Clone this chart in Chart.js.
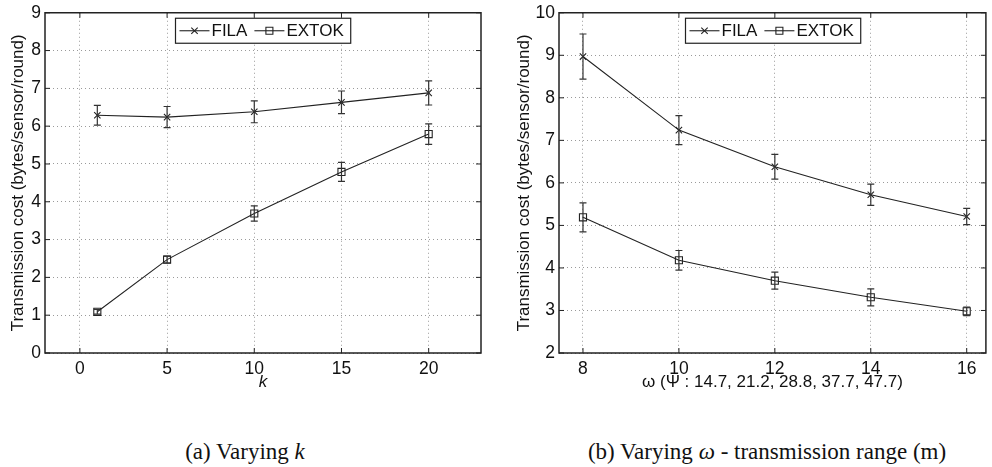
<!DOCTYPE html>
<html>
<head>
<meta charset="utf-8">
<script src="https://cdn.jsdelivr.net/npm/chart.js@4.4.1/dist/chart.umd.min.js"></script>
<style>
  body { margin: 0; background: #fff; }
  #wrap { position: relative; width: 992px; height: 467px; overflow: hidden; background: #fff; }
  #chartA { position: absolute; left: 0; top: 0; }
  #chartB { position: absolute; left: 500px; top: 0; }
  .caption {
    position: absolute; top: 440px;
    font-family: "Liberation Serif", "Times New Roman", serif;
    font-size: 23px; line-height: 23px; white-space: nowrap;
    transform: translateX(-50%); color: #111;
  }
</style>
</head>
<body>
<div id="wrap">
  <canvas id="chartA" width="500" height="400"></canvas>
  <canvas id="chartB" width="492" height="400"></canvas>
  <div class="caption" style="left:245px">(a) Varying <i>k</i></div>
  <div class="caption" style="left:767px">(b) Varying <i>ω</i> - transmission range (m)</div>
</div>
<script>
// ===== DATA =====
const seriesNames = ["FILA", "EXTOK"];
const yTitle = "Transmission cost (bytes/sensor/round)";

// (a) varying k
const kValues = [1, 5, 10, 15, 20];
const filaByK = [6.29, 6.24, 6.38, 6.63, 6.88];
const filaByKErr = [0.26, 0.28, 0.29, 0.30, 0.32];
const extokByK = [1.09, 2.47, 3.69, 4.79, 5.79];
const extokByKErr = [0.06, 0.09, 0.20, 0.25, 0.27];
const kTicks = [0, 5, 10, 15, 20];
const costTicksA = [0, 1, 2, 3, 4, 5, 6, 7, 8, 9];

// (b) varying omega
const omegaValues = [8, 10, 12, 14, 16];
const filaByOmega = [8.97, 7.24, 6.38, 5.72, 5.21];
const filaByOmegaErr = [0.53, 0.34, 0.29, 0.25, 0.19];
const extokByOmega = [5.19, 4.18, 3.70, 3.31, 2.98];
const extokByOmegaErr = [0.34, 0.23, 0.20, 0.20, 0.10];
const omegaTicks = [8, 10, 12, 14, 16];
const costTicksB = [2, 3, 4, 5, 6, 7, 8, 9, 10];

const INK = "#222";
const FONT = "'Liberation Sans', Arial, Helvetica, sans-serif";

// ===== PLUGINS =====
const errorBars = {
  id: "errorBars",
  afterDatasetsDraw(chart) {
    const ctx = chart.ctx;
    const xs = chart.scales.x, ys = chart.scales.y;
    ctx.save();
    ctx.strokeStyle = "#333";
    ctx.lineWidth = 1.2;
    chart.data.datasets.forEach(ds => {
      ds.data.forEach((p, i) => {
        const e = ds.errors[i];
        const x = xs.getPixelForValue(p.x);
        const y1 = ys.getPixelForValue(p.y + e);
        const y2 = ys.getPixelForValue(p.y - e);
        ctx.beginPath();
        ctx.moveTo(x, y1); ctx.lineTo(x, y2);
        ctx.moveTo(x - 3.5, y1); ctx.lineTo(x + 3.5, y1);
        ctx.moveTo(x - 3.5, y2); ctx.lineTo(x + 3.5, y2);
        ctx.stroke();
      });
    });
    ctx.restore();
  }
};

function drawMarker(ctx, style, x, y) {
  ctx.beginPath();
  if (style === "crossRot") {
    const d = 3.2;
    ctx.moveTo(x - d, y - d); ctx.lineTo(x + d, y + d);
    ctx.moveTo(x - d, y + d); ctx.lineTo(x + d, y - d);
  } else {
    ctx.rect(x - 3.5, y - 3.5, 7, 7);
  }
  ctx.stroke();
}

// box, inward ticks and legend, matlab style
const frame = {
  id: "frame",
  afterDraw(chart) {
    const ctx = chart.ctx;
    const a = chart.chartArea;
    const xs = chart.scales.x, ys = chart.scales.y;
    ctx.save();
    ctx.strokeStyle = INK;
    ctx.lineWidth = 1.5;
    ctx.strokeRect(a.left, a.top, a.right - a.left, a.bottom - a.top);

    ctx.lineWidth = 1;
    ctx.beginPath();
    xs.ticks.forEach(t => {
      const x = xs.getPixelForValue(t.value);
      ctx.moveTo(x, a.bottom); ctx.lineTo(x, a.bottom - 5);
      ctx.moveTo(x, a.top); ctx.lineTo(x, a.top + 5);
    });
    ys.ticks.forEach(t => {
      const y = ys.getPixelForValue(t.value);
      ctx.moveTo(a.left, y); ctx.lineTo(a.left + 5, y);
      ctx.moveTo(a.right, y); ctx.lineTo(a.right - 5, y);
    });
    ctx.stroke();

    // ===== LEGEND =====
    ctx.font = "17px " + FONT;
    const widths = chart.data.datasets.map(ds => ctx.measureText(ds.label).width);
    const boxW = 4 + widths.reduce((s, w) => s + 30 + 2 + w + 7, 0);
    const boxH = 25;
    const bx = Math.round((a.left + a.right) / 2 - boxW / 2) + 0.5;
    const by = a.top + 5.5;
    ctx.fillStyle = "#fff";
    ctx.fillRect(bx, by, boxW, boxH);
    ctx.lineWidth = 1.2;
    ctx.strokeRect(bx, by, boxW, boxH);
    let sx = bx + 4;
    const cy = by + boxH / 2;
    chart.data.datasets.forEach((ds, i) => {
      ctx.strokeStyle = INK;
      ctx.lineWidth = 1.1;
      ctx.beginPath();
      ctx.moveTo(sx, cy); ctx.lineTo(sx + 30, cy);
      ctx.stroke();
      drawMarker(ctx, ds.pointStyle, sx + 15, cy);
      ctx.fillStyle = "#111";
      ctx.textBaseline = "middle";
      ctx.fillText(ds.label, sx + 32, cy + 1);
      sx += 30 + 2 + widths[i] + 7;
    });
    ctx.restore();
  }
};

// ===== CHART =====
function makeDataset(label, xv, yv, err, style, radius) {
  return {
    label: label,
    data: xv.map((x, i) => ({ x: x, y: yv[i] })),
    errors: err,
    borderColor: INK,
    borderWidth: 1.1,
    pointStyle: style,
    pointRadius: radius,
    pointHoverRadius: radius,
    pointBorderColor: INK,
    pointBorderWidth: 1.1,
    pointBackgroundColor: "rgba(0,0,0,0)",
    fill: false,
    tension: 0
  };
}

function makeChart(id, cfg) {
  return new Chart(document.getElementById(id), {
    type: "line",
    data: { datasets: cfg.datasets },
    plugins: [errorBars, frame],
    options: {
      responsive: false,
      animation: false,
      events: [],
      layout: { padding: { top: 9, right: cfg.padRight, bottom: 7.4, left: 0 } },
      plugins: { legend: { display: false }, tooltip: { enabled: false } },
      scales: {
        x: {
          type: "linear",
          min: cfg.xMin, max: cfg.xMax,
          afterBuildTicks: s => { s.ticks = cfg.xTicks.map(v => ({ value: v })); },
          afterFit: s => { s.height = 39.6; },
          grid: { color: "#9a9a9a", lineWidth: 1, drawTicks: false },
          border: { display: false, dash: [1, 3] },
          ticks: { color: "#111", padding: 7, maxRotation: 0, font: { family: FONT, size: 17.5, lineHeight: 1 } },
          title: {
            display: true, text: cfg.xTitle, color: "#111",
            padding: { top: 0, bottom: 0 },
            font: { family: FONT, size: 17, style: cfg.xTitleStyle, lineHeight: 1.2 }
          }
        },
        y: {
          min: cfg.yMin, max: cfg.yMax,
          afterBuildTicks: s => { s.ticks = cfg.yTicks.map(v => ({ value: v })); },
          afterFit: s => { s.width = cfg.yWidth; },
          grid: { color: "#9a9a9a", lineWidth: 1, drawTicks: false },
          border: { display: false, dash: [1, 3] },
          ticks: { color: "#111", padding: 4, font: { family: FONT, size: 17.5, lineHeight: 1 } },
          title: {
            display: true, text: yTitle, color: "#111",
            padding: { top: cfg.yTitlePad, bottom: 0 },
            font: { family: FONT, size: 17, lineHeight: 1.2 }
          }
        }
      }
    }
  });
}

makeChart("chartA", {
  datasets: [
    makeDataset(seriesNames[0], kValues, filaByK, filaByKErr, "crossRot", 4.5),
    makeDataset(seriesNames[1], kValues, extokByK, extokByKErr, "rect", 5)
  ],
  xMin: -2, xMax: 23, xTicks: kTicks, xTitle: "k", xTitleStyle: "italic",
  yMin: 0, yMax: 9, yTicks: costTicksA, yWidth: 45, yTitlePad: 8.3, padRight: 19
});

makeChart("chartB", {
  datasets: [
    makeDataset(seriesNames[0], omegaValues, filaByOmega, filaByOmegaErr, "crossRot", 4.5),
    makeDataset(seriesNames[1], omegaValues, extokByOmega, extokByOmegaErr, "rect", 5)
  ],
  xMin: 7.5, xMax: 16.4, xTicks: omegaTicks, xTitle: "ω (Ψ : 14.7, 21.2, 28.8, 37.7, 47.7)", xTitleStyle: "normal",
  yMin: 2, yMax: 10, yTicks: costTicksB, yWidth: 59, yTitlePad: 14.3, padRight: 1
});
</script>
</body>
</html>
